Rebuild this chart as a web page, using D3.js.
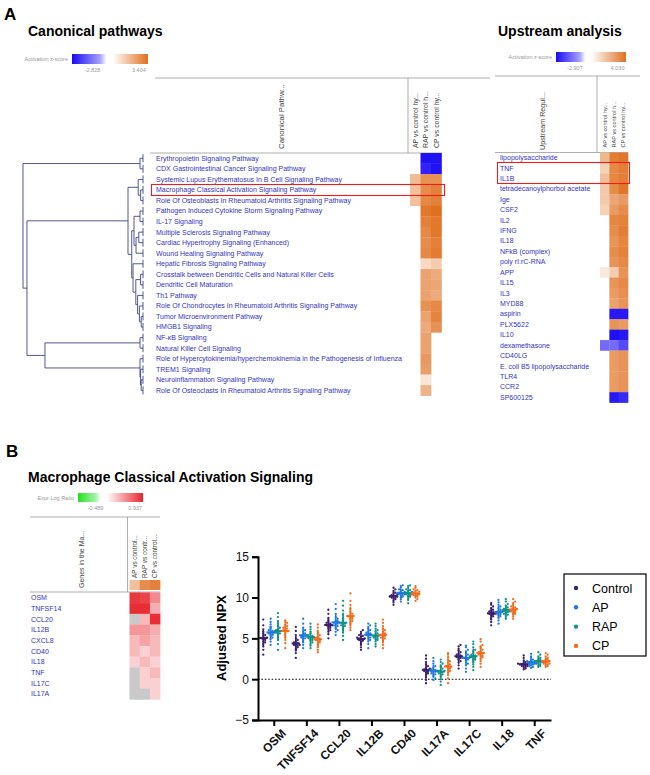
<!DOCTYPE html>
<html>
<head>
<meta charset="utf-8">
<script src="https://cdn.jsdelivr.net/npm/d3@7"></script>
<style>
  body { margin: 0; background: #fff; }
  text { font-family: "Liberation Sans", Arial, sans-serif; }
</style>
</head>
<body>
<div id="fig"></div>
<script>
const W = 650, H = 775;

// ---------- data: canonical pathways ----------
const comparisons = ["AP vs control hy...", "RAP vs control h...", "CP vs control hy..."];
const pathways = [
  "Erythropoietin Signaling Pathway",
  "CDX Gastrointestinal Cancer Signaling Pathway",
  "Systemic Lupus Erythematosus In B Cell Signaling Pathway",
  "Macrophage Classical Activation Signaling Pathway",
  "Role Of Osteoblasts In Rheumatoid Arthritis Signaling Pathway",
  "Pathogen Induced Cytokine Storm Signaling Pathway",
  "IL-17 Signaling",
  "Multiple Sclerosis Signaling Pathway",
  "Cardiac Hypertrophy Signaling (Enhanced)",
  "Wound Healing Signaling Pathway",
  "Hepatic Fibrosis Signaling Pathway",
  "Crosstalk between Dendritic Cells and Natural Killer Cells",
  "Dendritic Cell Maturation",
  "Th1 Pathway",
  "Role Of Chondrocytes In Rheumatoid Arthritis Signaling Pathway",
  "Tumor Microenvironment Pathway",
  "HMGB1 Signaling",
  "NF-\u03BAB Signaling",
  "Natural Killer Cell Signaling",
  "Role of Hypercytokinemia/hyperchemokinemia in the Pathogenesis of Influenza",
  "TREM1 Signaling",
  "Neuroinflammation Signaling Pathway",
  "Role Of Osteoclasts In Rheumatoid Arthritis Signaling Pathway"
];
// z-scores per pathway: [AP, RAP, CP]; null = no value
const pathwayZ = [
  [null, -2.8, -2.8], [null, -2.6, -2.8], [1.6, 2.6, 2.6], [1.5, 2.7, 3.0],
  [1.5, 2.8, 3.0], [null, 3.2, 3.4], [null, 3.0, 3.2], [null, 2.8, 3.2],
  [null, 2.7, 3.0], [null, 2.8, 3.1], [null, 0.9, 1.2], [null, 2.2, 2.0],
  [null, 2.2, 2.1], [null, 2.2, 2.0], [null, 2.6, 2.8], [null, 2.2, 2.9],
  [null, 2.0, 2.6], [null, 2.2, null], [null, 2.2, null], [null, 2.4, null],
  [null, 2.3, null], [null, 0.6, null], [null, 1.8, null]
];
const canonRange = [-2.828, 3.404];
// dendrogram: [distance, left, right], leaves are row indices
const dendrogram = [1.0,
  [0.025, 0, 1],
  [0.967,
    [0.125,
      [0.04, 2, [0.02, 3, 4]],
      [0.094,
        [0.075, [0.025, 5, 6], [0.058, [0.035, 7, 8], 9]],
        [0.083, 10, [0.06, [0.02, 11, 12], [0.045, 13, [0.03, 14, [0.015, 15, 16]]]]]]],
    [0.817, [0.025, 17, 18], [0.025, 19, [0.02, 20, [0.015, 21, 22]]]]]];

// ---------- data: upstream analysis ----------
const regulators = ["lipopolysaccharide", "TNF", "IL1B", "tetradecanoylphorbol acetate", "Ige",
  "CSF2", "IL2", "IFNG", "IL18", "NFkB (complex)", "poly rI:rC-RNA", "APP", "IL15", "IL3",
  "MYD88", "aspirin", "PLX5622", "IL10", "dexamethasone", "CD40LG",
  "E. coli B5 lipopolysaccharide", "TLR4", "CCR2", "SP600125"];
const regulatorZ = [
  [2.0, 3.6, 3.8], [1.3, 3.3, 3.6], [1.8, 3.4, 3.6], [1.5, 3.2, 3.8], [1.5, 2.5, 2.8],
  [1.3, 2.8, 3.2], [null, 3.4, 3.5], [null, 3.2, 3.6], [null, 3.0, 3.4], [null, 3.2, 3.5],
  [null, 3.0, 3.3], [0.6, 1.4, 3.0], [null, 3.0, 3.3], [null, 2.8, 3.1], [null, 2.6, 3.0],
  [null, -2.8, -2.8], [null, 3.0, 2.8], [null, -2.9, -2.8], [-1.8, -1.8, -2.2], [null, 2.8, 3.0],
  [null, 2.8, 3.0], [null, 2.8, 3.0], [null, 2.8, 3.0], [null, -2.8, -2.6]
];
const upstreamRange = [-2.907, 4.030];

// ---------- data: panel B heatmap ----------
const geneComparisons = ["AP vs control...", "RAP vs contr...", "CP vs control..."];
const pathwayGenes = ["OSM", "TNFSF14", "CCL20", "IL12B", "CXCL8", "CD40", "IL18", "TNF", "IL17C", "IL17A"];
const geneLogRatio = [
  [0.85, 0.8, 0.5], [0.9, 0.9, 0.35], [null, 0.3, 0.9], [0.45, 0.45, 0.35], [0.3, 0.4, 0.3],
  [0.3, 0.2, 0.3], [0.2, 0.3, 0.2], [null, 0.2, 0.3], [null, 0.2, 0.2], [null, null, 0.2]
];
const logRatioRange = [-0.489, 0.937];

// ---------- data: Adjusted NPX ----------
const groups = ["Control", "AP", "RAP", "CP"];
const npxGenes = ["OSM", "TNFSF14", "CCL20", "IL12B", "CD40", "IL17A", "IL17C", "IL18", "TNF"];
const npxOSM = [
  [3.0, 3.6, 4.0, 4.3, 4.5, 4.6, 4.8, 4.9, 5.0, 5.0, 5.1, 5.3, 5.4, 5.6, 5.8, 6.1, 6.6, 7.3],
  [4.2, 4.6, 4.9, 5.1, 5.3, 5.4, 5.5, 5.5, 5.6, 5.7, 5.8, 5.9, 6.0, 6.2, 6.4, 6.7, 7.0, 7.4],
  [3.6, 4.3, 4.8, 5.1, 5.3, 5.5, 5.6, 5.7, 5.8, 5.9, 6.0, 6.1, 6.3, 6.5, 6.8, 7.1, 7.6, 8.1],
  [3.8, 4.4, 4.8, 5.1, 5.4, 5.6, 5.8, 5.9, 6.0, 6.1, 6.2, 6.3, 6.4, 6.5, 6.7, 6.9, 7.0, 7.2]];
const npxTNFSF14 = [
  [2.6, 3.2, 3.5, 3.7, 3.9, 4.0, 4.1, 4.2, 4.2, 4.3, 4.4, 4.5, 4.6, 4.8, 5.0, 5.4, 5.9, 6.4],
  [3.8, 4.2, 4.5, 4.7, 4.9, 5.0, 5.1, 5.2, 5.3, 5.3, 5.4, 5.5, 5.6, 5.8, 6.0, 6.3, 6.8, 7.4],
  [3.8, 4.1, 4.3, 4.5, 4.7, 4.8, 4.9, 5.0, 5.0, 5.1, 5.2, 5.3, 5.4, 5.6, 5.8, 6.1, 6.4, 6.8],
  [3.3, 3.6, 3.9, 4.1, 4.3, 4.5, 4.6, 4.7, 4.8, 4.9, 5.0, 5.1, 5.2, 5.4, 5.6, 5.9, 6.3, 6.7]];
const npxCCL20 = [
  [5.0, 5.5, 5.8, 6.0, 6.2, 6.3, 6.4, 6.5, 6.6, 6.6, 6.7, 6.8, 6.9, 7.0, 7.2, 7.5, 8.0, 8.5],
  [5.4, 5.8, 6.0, 6.2, 6.4, 6.5, 6.6, 6.7, 6.8, 6.9, 7.0, 7.1, 7.2, 7.4, 7.6, 8.0, 8.6, 9.2],
  [4.8, 5.3, 5.7, 6.0, 6.2, 6.4, 6.5, 6.6, 6.7, 6.8, 6.9, 7.0, 7.2, 7.5, 7.9, 8.4, 9.0, 9.6],
  [6.0, 6.3, 6.6, 6.8, 7.0, 7.1, 7.3, 7.4, 7.5, 7.6, 7.7, 7.8, 8.0, 8.2, 8.6, 9.1, 9.6, 10.5]];
const npxIL12B = [
  [3.6, 3.9, 4.2, 4.4, 4.6, 4.7, 4.8, 4.9, 4.9, 5.0, 5.0, 5.1, 5.2, 5.3, 5.4, 5.6, 5.8, 6.0],
  [3.8, 4.3, 4.6, 4.8, 5.0, 5.1, 5.3, 5.4, 5.4, 5.5, 5.6, 5.7, 5.8, 6.0, 6.2, 6.4, 6.6, 6.8],
  [4.0, 4.3, 4.6, 4.8, 4.9, 5.0, 5.1, 5.2, 5.2, 5.3, 5.4, 5.5, 5.6, 5.8, 6.0, 6.2, 6.5, 6.8],
  [3.8, 4.2, 4.5, 4.7, 4.9, 5.0, 5.1, 5.2, 5.3, 5.4, 5.5, 5.6, 5.8, 6.0, 6.2, 6.5, 6.9, 7.3]];
const npxCD40 = [
  [9.1, 9.4, 9.6, 9.8, 9.9, 10.0, 10.0, 10.1, 10.1, 10.2, 10.2, 10.3, 10.4, 10.5, 10.6, 10.8, 11.0, 11.2],
  [9.5, 9.8, 10.0, 10.1, 10.2, 10.3, 10.4, 10.4, 10.5, 10.5, 10.6, 10.7, 10.8, 10.9, 11.0, 11.2, 11.4, 11.5],
  [9.3, 9.7, 9.9, 10.1, 10.2, 10.3, 10.4, 10.4, 10.5, 10.5, 10.6, 10.7, 10.8, 10.9, 11.0, 11.2, 11.4, 11.5],
  [9.6, 9.8, 10.0, 10.1, 10.2, 10.3, 10.3, 10.4, 10.4, 10.5, 10.5, 10.6, 10.7, 10.8, 10.9, 11.0, 11.2, 11.4]];
const npxIL17A = [
  [-0.5, -0.1, 0.2, 0.5, 0.7, 0.8, 0.9, 1.0, 1.1, 1.1, 1.2, 1.3, 1.4, 1.6, 1.8, 2.1, 2.5, 2.9],
  [-0.1, 0.1, 0.3, 0.5, 0.6, 0.7, 0.8, 0.9, 0.9, 1.0, 1.1, 1.1, 1.2, 1.4, 1.6, 1.9, 2.2, 2.6],
  [-0.7, -0.3, 0.0, 0.3, 0.5, 0.6, 0.7, 0.8, 0.9, 1.0, 1.0, 1.1, 1.3, 1.5, 1.7, 1.9, 2.1, 2.4],
  [-0.5, 0.1, 0.5, 0.8, 1.0, 1.1, 1.3, 1.4, 1.5, 1.6, 1.7, 1.8, 2.0, 2.2, 2.4, 2.7, 3.0, 3.2]];
const npxIL17C = [
  [1.3, 1.7, 2.0, 2.2, 2.4, 2.5, 2.6, 2.7, 2.7, 2.8, 2.9, 3.0, 3.1, 3.3, 3.5, 3.7, 4.0, 4.2],
  [0.9, 1.3, 1.7, 1.9, 2.1, 2.3, 2.4, 2.5, 2.5, 2.6, 2.7, 2.8, 3.0, 3.2, 3.4, 3.6, 3.9, 4.1],
  [1.1, 1.5, 1.8, 2.1, 2.3, 2.4, 2.5, 2.6, 2.7, 2.8, 2.9, 3.0, 3.2, 3.4, 3.6, 3.9, 4.3, 4.6],
  [1.5, 1.9, 2.2, 2.5, 2.7, 2.8, 2.9, 3.0, 3.1, 3.2, 3.3, 3.4, 3.6, 3.8, 4.0, 4.2, 4.6, 4.9]];
const npxIL18 = [
  [6.6, 7.0, 7.3, 7.5, 7.7, 7.8, 7.9, 8.0, 8.0, 8.1, 8.2, 8.3, 8.4, 8.5, 8.7, 8.9, 9.1, 9.3],
  [6.8, 7.2, 7.5, 7.7, 7.8, 7.9, 8.0, 8.1, 8.1, 8.2, 8.3, 8.4, 8.5, 8.7, 8.9, 9.1, 9.4, 9.7],
  [7.4, 7.6, 7.8, 7.9, 8.0, 8.1, 8.2, 8.3, 8.3, 8.4, 8.5, 8.6, 8.7, 8.8, 9.0, 9.2, 9.5, 9.8],
  [7.4, 7.7, 7.9, 8.0, 8.1, 8.2, 8.3, 8.4, 8.4, 8.5, 8.6, 8.7, 8.8, 8.9, 9.1, 9.3, 9.5, 9.8]];
const npxTNF = [
  [1.2, 1.3, 1.4, 1.5, 1.6, 1.6, 1.7, 1.7, 1.8, 1.8, 1.8, 1.9, 1.9, 2.0, 2.1, 2.3, 2.6, 2.9],
  [1.4, 1.5, 1.6, 1.7, 1.8, 1.9, 1.9, 2.0, 2.0, 2.1, 2.1, 2.2, 2.2, 2.3, 2.4, 2.6, 2.8, 3.1],
  [1.5, 1.6, 1.7, 1.8, 1.9, 2.0, 2.0, 2.1, 2.1, 2.2, 2.2, 2.3, 2.4, 2.5, 2.6, 2.8, 3.0, 3.3],
  [1.5, 1.6, 1.7, 1.8, 1.9, 1.9, 2.0, 2.1, 2.1, 2.2, 2.2, 2.3, 2.4, 2.5, 2.6, 2.8, 3.0, 3.2]];
const npxValues = [npxOSM, npxTNFSF14, npxCCL20, npxIL12B, npxCD40, npxIL17A, npxIL17C, npxIL18, npxTNF];
const yTicks = [-5, 0, 5, 10, 15];
const groupColors = ["#3b1f6b", "#1f78e0", "#11908c", "#f26b1d"];

// ---------- setup ----------
const svg = d3.select("#fig").append("svg")
  .attr("width", W).attr("height", H)
  .style("background", "#fff");
const defs = svg.append("defs");
const labelBlue = "#3434c4";
const gridGrey = "#9a9a9a";
const boxRed = "#ee1c1c";

function bold(x, y, str, size) {
  svg.append("text").attr("x", x).attr("y", y)
    .attr("font-size", size).attr("font-weight", "bold").text(str);
}

// gradient legend bar
function scaleBar(id, x, y, w, h, title, lo, hi, colorLo, colorHi) {
  const zeroAt = (0 - lo) / (hi - lo);
  const grad = defs.append("linearGradient").attr("id", id);
  grad.append("stop").attr("offset", 0).attr("stop-color", colorLo);
  grad.append("stop").attr("offset", zeroAt * 0.8).attr("stop-color", d3.interpolateRgb(colorLo, "#fff")(0.6));
  grad.append("stop").attr("offset", zeroAt).attr("stop-color", "#fff");
  grad.append("stop").attr("offset", zeroAt + (1 - zeroAt) * 0.15).attr("stop-color", "#fff");
  grad.append("stop").attr("offset", 1).attr("stop-color", colorHi);
  svg.append("rect").attr("x", x).attr("y", y).attr("width", w).attr("height", h)
    .attr("fill", `url(#${id})`);
  svg.append("text").attr("x", x - 4).attr("y", y + h / 2 + 2).attr("text-anchor", "end")
    .attr("font-size", 5.5).attr("fill", "#999").text(title);
  svg.append("text").attr("x", x + w * 0.27).attr("y", y + h + 8).attr("text-anchor", "middle")
    .attr("font-size", 5.5).attr("fill", "#999").text(lo.toFixed(3));
  svg.append("text").attr("x", x + w * 0.88).attr("y", y + h + 8).attr("text-anchor", "middle")
    .attr("font-size", 5.5).attr("fill", "#999").text(hi.toFixed(3));
}

function line(x1, y1, x2, y2, color, width) {
  svg.append("line").attr("x1", x1).attr("y1", y1).attr("x2", x2).attr("y2", y2)
    .attr("stroke", color || gridGrey).attr("stroke-width", width || 0.8);
}

function vText(x, y, str, size, color) {
  svg.append("text").attr("transform", `translate(${x},${y}) rotate(-90)`)
    .attr("font-size", size).attr("fill", color || "#444").text(str);
}

// red highlight box snapped to pixel centres so it stays crisp over the cells
function highlight(x1, y1, x2, y2) {
  const sx = Math.floor(x1) + 0.5, sy = Math.floor(y1) + 0.5;
  svg.append("rect").attr("x", sx).attr("y", sy)
    .attr("width", Math.round(x2 - sx)).attr("height", Math.round(y2 - sy))
    .attr("fill", "none").attr("stroke", boxRed).attr("stroke-width", 1.1);
}

// generic IPA-like heatmap with labels
function heatmap(opts) {
  const rowScale = d3.scaleBand().domain(d3.range(opts.rows.length))
    .range([opts.top, opts.top + opts.rows.length * opts.rowH]);
  const colScale = d3.scaleBand().domain(opts.cols)
    .range([opts.left, opts.left + opts.cols.length * opts.colW]);
  const g = svg.append("g");
  opts.values.forEach((row, i) => {
    row.forEach((v, j) => {
      if (v === null && !opts.nullColor) return;
      g.append("rect")
        .attr("x", colScale(opts.cols[j])).attr("y", rowScale(i))
        .attr("width", colScale.bandwidth() + 0.3).attr("height", rowScale.bandwidth() + 0.3)
        .attr("fill", v === null ? opts.nullColor : opts.color(v));
    });
  });
  g.selectAll("text.row").data(opts.rows).join("text")
    .attr("x", opts.labelX).attr("y", (d, i) => rowScale(i) + rowScale.bandwidth() / 2 + 2.4)
    .attr("font-size", opts.labelSize).attr("fill", labelBlue).text(d => d);
  const headBottom = opts.headBottom || opts.top - 5;
  opts.cols.forEach(c => {
    vText(colScale(c) + colScale.bandwidth() / 2 + opts.headSize * 0.35, headBottom, c, opts.headSize);
  });
  return { rowScale, colScale };
}

// ---------- Panel A: canonical pathways ----------
bold(4, 20, "A", 17);
bold(28, 36, "Canonical pathways", 14);
scaleBar("gCanon", 72, 54, 76, 10, "Activation z-score", canonRange[0], canonRange[1], "#1a0cf5", "#e07020");

const canonColor = d3.scaleLinear().domain([canonRange[0], 0, canonRange[1]])
  .range(["#1f10f5", "#ffffff", "#e06f1e"]).clamp(true);
line(155, 78, 490, 78);
line(150, 153, 442, 153);
line(408, 78, 408, 153);
vText(284, 149, "Canonical Pathw...", 7.8);
const canon = heatmap({
  rows: pathways, cols: comparisons, values: pathwayZ, color: canonColor,
  top: 153, rowH: 10.55, left: 410, colW: 10.5, labelX: 156, labelSize: 7, headSize: 6.9
});
highlight(151, canon.rowScale(3), 444, canon.rowScale(3) + canon.rowScale.bandwidth() + 0.6);

// dendrogram
const root = d3.hierarchy(dendrogram, d => Array.isArray(d) ? d.slice(1) : null);
const distX = d3.scaleLinear().domain([0, 1]).range([143, 23]);
root.eachAfter(n => {
  if (!n.children) {
    n.px = distX(0);
    n.py = canon.rowScale(n.data) + canon.rowScale.bandwidth() / 2;
  } else {
    n.px = distX(n.data[0]);
    n.py = d3.mean(n.children, c => c.py);
  }
});
const dendroColor = "#3f4585";
root.each(n => {
  if (!n.children) {
    line(n.px, n.py - 4, n.px, n.py + 4, dendroColor, 0.9);
    return;
  }
  line(n.px, n.children[0].py, n.px, n.children[1].py, dendroColor, 0.9);
  n.children.forEach(c => line(n.px, c.py, c.px, c.py, dendroColor, 0.9));
});

// ---------- Panel A: upstream analysis ----------
bold(498, 36, "Upstream analysis", 14);
scaleBar("gUp", 556, 52, 70, 10, "Activation z-score", upstreamRange[0], upstreamRange[1], "#1a0cf5", "#e07020");
const upColor = d3.scaleLinear().domain([upstreamRange[0], 0, upstreamRange[1]])
  .range(["#1f10f5", "#ffffff", "#e06f1e"]).clamp(true);
line(495, 76, 640, 76);
line(495, 152.5, 628, 152.5);
line(597, 76, 597, 152.5);
vText(545, 150, "Upstream Regul...", 7.2);
const upstream = heatmap({
  rows: regulators, cols: comparisons, values: regulatorZ, color: upColor,
  top: 152.5, rowH: 10.42, left: 600, colW: 9.35, labelX: 500, labelSize: 7, headSize: 5.6
});
highlight(497, upstream.rowScale(1), 629, upstream.rowScale(3));

// ---------- Panel B: pathway gene heatmap ----------
bold(6, 457, "B", 17);
bold(28, 482, "Macrophage Classical Activation Signaling", 14);
scaleBar("gRatio", 78, 493, 65, 9, "Expr Log Ratio", logRatioRange[0], logRatioRange[1], "#22e022", "#e8242c");
const ratioColor = d3.scaleLinear().domain([logRatioRange[0], 0, logRatioRange[1]])
  .range(["#22e022", "#ffffff", "#e8242c"]).clamp(true);
line(30, 517, 160, 517);
line(30, 592, 160, 592);
line(127.5, 517, 127.5, 592);
vText(84, 588, "Genes in the Ma...", 7);
const bHeat = heatmap({
  rows: pathwayGenes, cols: geneComparisons, values: geneLogRatio, color: ratioColor, nullColor: "#c9c9c9",
  top: 592.4, rowH: 10.7, left: 129.5, colW: 10.2, labelX: 31, labelSize: 7, headSize: 6.4, headBottom: 578
});
// pathway z-score strip above gene heatmap (row of "Macrophage Classical Activation")
geneComparisons.forEach((c, j) => {
  svg.append("rect").attr("x", bHeat.colScale(c)).attr("y", 580)
    .attr("width", bHeat.colScale.bandwidth() + 0.3).attr("height", 10)
    .attr("fill", canonColor(pathwayZ[3][j]));
});

// ---------- Panel B: Adjusted NPX dot plot ----------
const x = d3.scaleBand().domain(npxGenes).range([258, 551]);
const y = d3.scaleLinear().domain([-5, 15]).range([720, 556.7]);
const groupOffset = d3.scalePoint().domain(groups).range([-11, 11]);
const plot = svg.append("g");

plot.append("line").attr("x1", 258).attr("x2", 551).attr("y1", y(0)).attr("y2", y(0))
  .attr("stroke", "#000").attr("stroke-width", 1.1).attr("stroke-dasharray", "1.6,1.8");

npxValues.forEach((grp, gi) => {
  grp.forEach((vals, k) => {
    const cx = x(npxGenes[gi]) + x.bandwidth() / 2 + groupOffset(groups[k]);
    const color = groupColors[k];
    // simple beeswarm: bin by pixel row, spread sideways
    const bins = new Map();
    vals.forEach(v => {
      const b = Math.round(y(v) / 2.4);
      const n = bins.get(b) || 0;
      bins.set(b, n + 1);
      const dx = n === 0 ? 0 : (n % 2 ? 1 : -1) * Math.ceil(n / 2) * 1.9;
      plot.append("circle").attr("cx", cx + dx).attr("cy", y(v)).attr("r", 1.15).attr("fill", color);
    });
    const m = d3.mean(vals), sd = d3.deviation(vals);
    plot.append("line").attr("x1", cx).attr("x2", cx).attr("y1", y(m - sd)).attr("y2", y(m + sd))
      .attr("stroke", color).attr("stroke-width", 1.6);
    plot.append("line").attr("x1", cx - 4.2).attr("x2", cx + 4.2).attr("y1", y(m)).attr("y2", y(m))
      .attr("stroke", color).attr("stroke-width", 2);
  });
});

const yAxis = plot.append("g").attr("transform", "translate(258,0)")
  .call(d3.axisLeft(y).tickValues(yTicks).tickSize(6).tickPadding(3));
yAxis.selectAll("text").attr("font-size", 12).attr("fill", "#111")
  .style("font-family", "'Liberation Sans', Arial, sans-serif");
yAxis.select(".domain").attr("stroke-width", 2);
yAxis.selectAll(".tick line").attr("stroke-width", 2);

const xAxis = plot.append("g").attr("transform", "translate(0,720)")
  .call(d3.axisBottom(x).tickSize(6).tickSizeOuter(0).tickPadding(2));
xAxis.select(".domain").attr("stroke-width", 2);
xAxis.selectAll(".tick line").attr("stroke-width", 2);
xAxis.selectAll("text")
  .attr("font-size", 12).attr("font-weight", "bold").attr("fill", "#111")
  .style("font-family", "'Liberation Sans', Arial, sans-serif")
  .attr("text-anchor", "end").attr("dx", "-0.1em").attr("dy", "0.9em")
  .attr("transform", "rotate(-45)");

svg.append("text").attr("transform", "translate(226,638) rotate(-90)")
  .attr("text-anchor", "middle").attr("font-size", 13).attr("font-weight", "bold")
  .text("Adjusted NPX");

// legend
const legend = svg.append("g").attr("transform", "translate(564,574)");
legend.append("rect").attr("x", 0).attr("y", 0).attr("width", 82).attr("height", 82)
  .attr("fill", "#fff").attr("stroke", "#000").attr("stroke-width", 1.2);
groups.forEach((gname, i) => {
  legend.append("circle").attr("cx", 12).attr("cy", 14 + i * 19.3).attr("r", 2.2).attr("fill", groupColors[i]);
  legend.append("text").attr("x", 28).attr("y", 18.5 + i * 19.3).attr("font-size", 12.5).text(gname);
});
</script>
</body>
</html>
